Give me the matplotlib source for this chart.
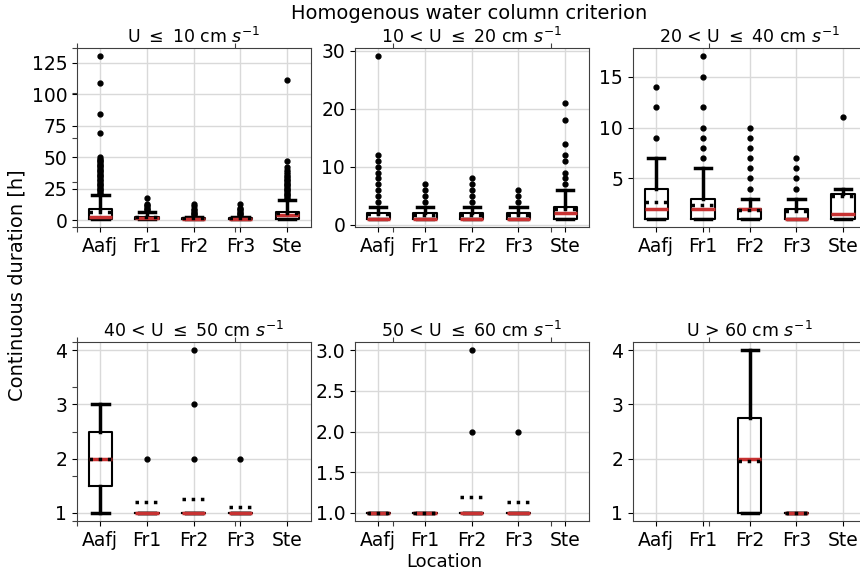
import matplotlib
matplotlib.use('Agg')
import matplotlib.pyplot as plt

locations = ['Aafj', 'Fr1', 'Fr2', 'Fr3', 'Ste']
panel_titles = [r'U $\leq$ 10 cm $s^{-1}$',
                r'10 < U $\leq$ 20 cm $s^{-1}$',
                r'20 < U $\leq$ 40 cm $s^{-1}$',
                r'40 < U $\leq$ 50 cm $s^{-1}$',
                r'50 < U $\leq$ 60 cm $s^{-1}$',
                r'U > 60 cm $s^{-1}$']

# box statistics per speed class (rows) and location (columns), None = no data
q1 = [[1, 1, 1, 1, 1],
      [1, 1, 1, 1, 1],
      [1, 1, 1, 1, 1],
      [1.5, 1, 1, 1, None],
      [1, 1, 1, 1, None],
      [None, None, 1, 1, None]]
median = [[3, 2, 1, 1, 4],
          [1, 1, 1, 1, 2],
          [2, 2, 2, 1, 1.5],
          [2, 1, 1, 1, None],
          [1, 1, 1, 1, None],
          [None, None, 2, 1, None]]
q3 = [[9, 3, 2, 2, 7],
      [2, 2, 2, 2, 3],
      [4, 3, 2, 2, 3.5],
      [2.5, 1, 1, 1, None],
      [1, 1, 1, 1, None],
      [None, None, 2.75, 1, None]]
whisk_lo = [[1, 1, 1, 1, 1],
            [1, 1, 1, 1, 1],
            [1, 1, 1, 1, 1],
            [1, 1, 1, 1, None],
            [1, 1, 1, 1, None],
            [None, None, 1, 1, None]]
whisk_hi = [[20, 7, 3, 3, 16],
            [3, 3, 3, 3, 6],
            [7, 6, 3, 3, 4],
            [3, 1, 1, 1, None],
            [1, 1, 1, 1, None],
            [None, None, 4, 1, None]]
mean = [[7.0, 2.8, 1.8, 1.7, 6.0],
        [1.8, 1.7, 1.7, 1.7, 2.7],
        [2.7, 2.4, 1.9, 1.8, 3.3],
        [2.0, 1.2, 1.26, 1.1, None],
        [1.0, 1.0, 1.2, 1.13, None],
        [None, None, 1.95, 1.0, None]]
outliers = [
    [[21, 22, 23, 24, 25, 26, 27, 28, 29, 30, 31, 32, 33, 34, 35, 36, 37, 38,
      39, 40, 41, 42, 43, 44, 45, 46, 47, 48, 49, 50, 69, 84, 109, 130],
     [8, 9, 10, 11, 12, 13, 18],
     [4, 5, 6, 7, 8, 9, 11, 13],
     [4, 5, 6, 7, 8, 9, 10, 13],
     [17, 18, 19, 20, 21, 22, 23, 24, 25, 26, 27, 28, 29, 30, 31, 32, 33, 34,
      35, 37, 38, 40, 42, 47, 111]],
    [[4, 5, 6, 7, 8, 9, 10, 11, 12, 29],
     [4, 5, 6, 7],
     [4, 5, 6, 7, 8],
     [4, 5, 6],
     [7, 8, 9, 11, 12, 14, 18, 21]],
    [[9, 12, 14],
     [7, 8, 9, 10, 12, 15, 17],
     [4, 5, 6, 7, 8, 9, 10],
     [4, 5, 6, 7],
     [11]],
    [[], [2], [2, 3, 4], [2], []],
    [[], [], [2, 3], [2], []],
    [[], [], [], [], []],
]
y_ticks = [[0, 25, 50, 75, 100, 125],
           [0, 10, 20, 30],
           [5, 10, 15],
           [1, 2, 3, 4],
           [1.0, 1.5, 2.0, 2.5, 3.0],
           [1, 2, 3, 4]]

plt.rcParams['font.size'] = 13.5
plt.rcParams['axes.edgecolor'] = '0.25'

fig, axes = plt.subplots(2, 3, figsize=(8.6, 5.73), dpi=100)
fig.subplots_adjust(left=0.0895, right=1.0076, bottom=0.0908, top=0.9157,
                    wspace=0.19, hspace=0.642)

# frameless helper axes per row (only their tick marks show)
for r in range(2):
    helper = fig.add_subplot(2, 1, r + 1, frameon=False)
    helper.tick_params(labelleft=False, labelbottom=False, top=True,
                       bottom=True, left=True, right=False, color='0.25')
    helper.set_zorder(-1)

for k, ax in enumerate(axes.flat):
    stats, pos = [], []
    for j, loc in enumerate(locations):
        if median[k][j] is None:
            continue
        stats.append(dict(label=loc, q1=q1[k][j], med=median[k][j], q3=q3[k][j],
                          whislo=whisk_lo[k][j], whishi=whisk_hi[k][j],
                          mean=mean[k][j], fliers=outliers[k][j]))
        pos.append(j + 1)
    ax.set_axisbelow(True)
    ax.grid(True, color='#d9d9d9', lw=1)
    ax.bxp(stats, positions=pos, widths=0.5, capwidths=0.35,
           showmeans=True, meanline=True, manage_ticks=False,
           boxprops=dict(color='black', lw=1.5),
           whiskerprops=dict(color='black', lw=2.5),
           capprops=dict(color='black', lw=2.5),
           medianprops=dict(color='#c83232', lw=2.5),
           meanprops=dict(color='black', lw=2.5, linestyle=':'),
           flierprops=dict(marker='o', markerfacecolor='black',
                           markeredgecolor='black', markersize=3.5))
    ax.set_xlim(0.5, 5.5)
    ax.set_xticks(range(1, len(locations) + 1))
    ax.set_xticklabels(locations)
    ax.set_yticks(y_ticks[k])
    ax.set_title(panel_titles[k], fontsize=12.5, pad=4)

fig.text(0.546, 0.976, 'Homogenous water column criterion',
         ha='center', va='center', fontsize=14)
fig.text(0.02, 0.503, 'Continuous duration [h]', rotation=90,
         ha='center', va='center', fontsize=14)
fig.text(0.517, 0.019, 'Location', ha='center', va='center', fontsize=13)

fig.savefig('out.png', dpi=100)
